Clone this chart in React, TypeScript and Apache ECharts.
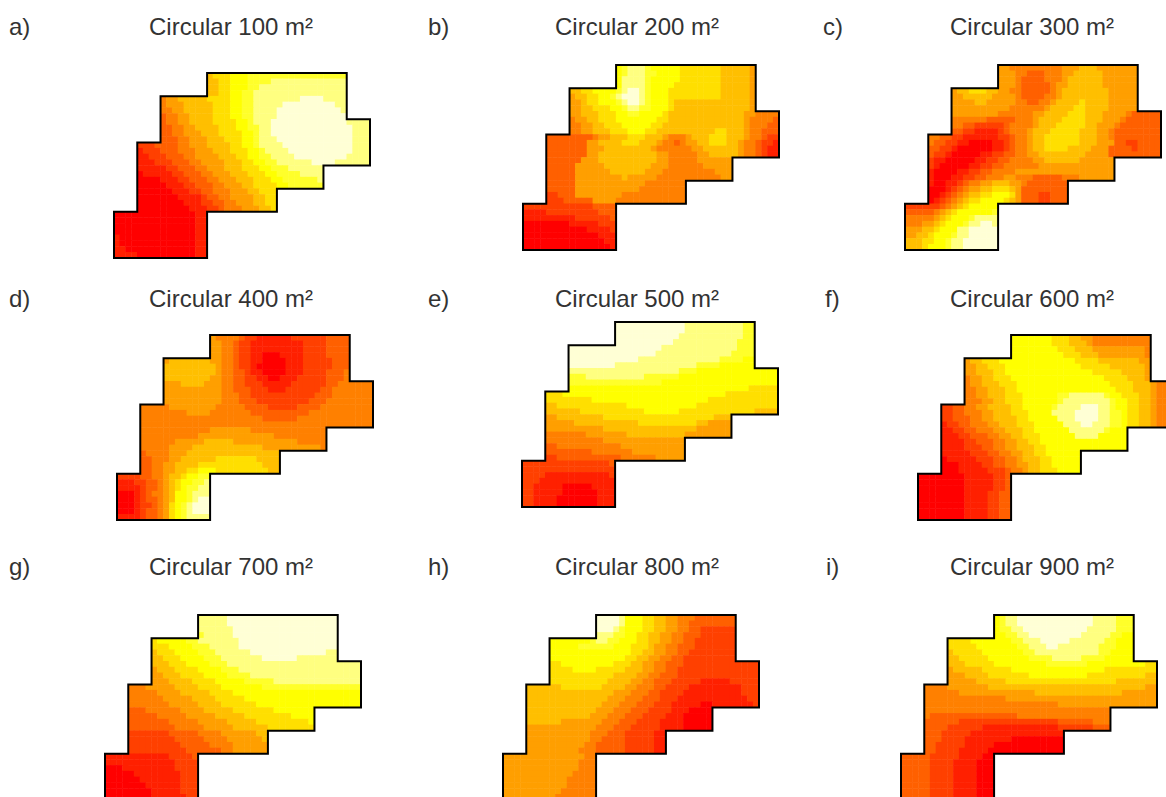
import React, { useEffect, useRef } from "react";
import * as echarts from "echarts";

const LEVEL_COLORS = ["#FF0000","#FF2000","#FF4000","#FF6000","#FF8000","#FF9F00","#FFBF00","#FFDF00","#FFFF00","#FFFF2A","#FFFF80","#FFFFD5"];
const LETTERS = ["a)","b)","c)","d)","e)","f)","g)","h)","i)"];
const TITLES = ["Circular 100 m²","Circular 200 m²","Circular 300 m²","Circular 400 m²","Circular 500 m²","Circular 600 m²","Circular 700 m²","Circular 800 m²","Circular 900 m²"];
const OUTLINE = [[0,8],[0,6],[1,6],[1,3],[2,3],[2,1],[4,1],[4,0],[10,0],[10,2],[11,2],[11,4],[9,4],[9,5],[7,5],[7,6],[4,6],[4,8],[0,8]];
const ROW_SPANS = [[16,39],[8,39],[8,43],[4,43],[4,35],[4,27],[0,15],[0,15]];

// Each row: "startColumn:level" runs (4 columns / rows per outline step).
const PANEL_A = [
"16:6 17:7 20:8 23:9","16:6 18:7 20:8 23:9 27:10","16:6 18:7 20:8 23:9 25:10","16:6 18:7 20:8 22:9 24:10",
"8:4 9:5 11:6 16:7 20:8 22:9 24:10 32:11 36:10","8:4 9:5 12:6 17:7 20:8 22:9 24:10 29:11 38:10","8:4 10:5 12:6 17:7 20:8 22:9 24:10 28:11 39:10","8:3 9:4 11:5 13:6 17:7 20:8 22:9 24:10 28:11",
"8:3 9:4 11:5 13:6 17:7 21:8 23:9 24:10 27:11 40:10","8:3 10:4 12:5 14:6 18:7 21:8 23:9 25:10 27:11 41:10","8:3 10:4 12:5 15:6 18:7 22:8 24:9 25:10 27:11 41:10","8:3 11:4 13:5 16:6 19:7 22:8 24:9 25:10 28:11 41:10",
"4:2 7:3 11:4 13:5 16:6 20:7 22:8 24:9 25:10 29:11 41:10","4:1 5:2 8:3 11:4 14:5 17:6 20:7 23:8 25:9 26:10 30:11 41:10","4:1 6:2 9:3 12:4 14:5 18:6 21:7 23:8 25:9 27:10 31:11 40:10","4:1 7:2 10:3 13:4 15:5 19:6 22:7 24:8 26:9 28:10 34:11 38:10",
"4:1 9:2 11:3 14:4 16:5 19:6 22:7 25:8 27:9 30:10","4:0 5:1 10:2 12:3 15:4 17:5 20:6 23:7 26:8 28:9 32:10","4:0 8:1 11:2 13:3 16:4 18:5 21:6 24:7 27:8 29:9 35:10","4:0 9:1 12:2 14:3 17:4 19:5 22:6 24:7 28:8 30:9",
"4:0 10:1 13:2 15:3 17:4 20:5 23:6 25:7","4:0 11:1 15:2 16:3 18:4 20:5 24:6 26:7","4:0 12:1 15:2 17:3 19:4 21:5 24:6 26:7","4:0 13:1 16:2 18:3 19:4 22:5 25:6 27:7",
"0:0 14:1","0:0 14:1","0:0 14:1","0:0 14:1","0:1 1:0 14:1","0:1 1:0 14:1","0:1 2:0 14:1","0:1 4:0 14:1"];
const PANEL_B = [
"16:8 17:9 18:10 21:9 22:8 27:7 34:6 39:5","16:8 17:9 18:10 21:9 23:8 27:7 34:6 39:5","16:8 17:10 21:9 22:8 27:7 34:6 39:5","16:8 17:10 21:9 22:8 26:7 34:6 39:5",
"8:6 10:7 12:8 16:9 17:10 18:11 20:10 21:9 22:8 25:7 34:6 39:5","8:5 9:6 11:7 13:8 15:9 16:10 17:11 20:10 21:9 22:8 25:7 34:6 39:5","8:5 10:6 11:7 13:8 16:9 17:10 18:11 20:10 21:9 22:8 25:7 26:6 39:5","8:5 10:6 12:7 15:8 17:9 18:10 20:9 22:8 25:7 26:6 39:5",
"8:5 10:6 13:7 16:8 18:9 20:8 24:7 25:6 38:5 40:4","8:4 9:5 11:6 13:7 16:8 23:7 25:6 38:5 39:4 43:3","8:4 10:5 12:6 14:7 17:8 22:7 24:6 38:5 39:4 42:3","8:4 10:5 12:6 15:7 18:8 21:7 23:6 33:7 35:6 38:5 39:4 41:3",
"4:3 12:4 13:5 15:6 18:7 21:6 24:5 25:4 28:5 29:6 32:7 35:6 38:5 39:4 41:3 42:2","4:3 11:5 13:6 17:7 20:6 23:5 24:4 26:3 27:4 28:5 30:6 32:7 35:6 37:5 38:4 40:3 41:2 43:1","4:3 11:5 14:6 22:5 23:4 29:5 31:6 37:5 38:4 40:3 41:2 42:1","4:3 11:5 13:6 23:5 25:4 30:5 32:6 37:5 38:4 40:3 41:2 42:1",
"4:3 10:5 13:6 23:5 25:4 30:5","4:3 9:5 14:6 22:5 25:4 31:5","4:3 9:5 15:6 21:5 24:4 33:5","4:3 9:5 17:6 18:5 23:4 34:5",
"4:3 9:5 21:4","4:3 9:5 20:4","4:2 6:3 9:5 17:4","4:2 7:3 12:5 16:4",
"0:2 12:3","0:1 4:2 13:3","0:1 9:2 15:3","0:0 8:1 13:2","0:0 11:1 15:2","0:0 13:1","0:0 14:1","0:0 15:1"];
const PANEL_C = [
"16:5 18:4 27:5 30:6 33:5","16:5 19:4 21:3 24:4 27:5 29:6 34:5","16:5 19:4 20:3 24:4 27:5 28:6 34:5","16:5 19:4 20:3 25:4 26:5 28:6 34:5",
"8:5 9:6 11:7 14:6 16:5 18:4 20:3 25:4 26:5 27:6 35:5","8:5 10:6 15:5 19:4 20:3 24:4 26:5 27:6 35:5","8:5 12:6 14:5 19:4 21:3 23:4 25:5 26:6 30:7 31:6 35:5","8:5 18:4 24:5 25:6 29:7 31:6 35:5",
"8:5 16:4 22:5 24:6 28:7 31:6 34:5 38:4 39:3","8:4 14:3 19:4 22:5 23:6 27:7 31:6 34:5 37:4 38:3","8:4 10:3 12:2 17:3 18:4 22:5 23:6 26:7 31:6 33:5 36:4 37:3","8:3 10:2 12:1 16:2 17:3 18:4 21:5 22:6 25:7 30:6 33:5 35:4 36:3",
"4:4 6:3 8:2 10:1 16:2 18:3 19:4 21:5 22:6 24:7 30:6 33:5 35:4 36:3","4:4 5:3 7:2 9:1 11:0 15:1 17:2 18:3 19:4 21:5 22:6 24:7 30:6 33:5 36:3 38:2 40:3","4:3 6:2 8:1 9:0 15:1 17:2 18:3 19:4 21:5 22:6 24:7 28:6 32:5 35:3 39:2 40:3","4:3 5:2 7:1 8:0 13:1 15:2 17:3 19:4 21:5 23:6 31:5 35:3",
"4:2 5:1 7:0 12:1 14:2 16:3 18:4 22:5 24:6 30:5","4:2 5:1 6:0 11:1 13:2 15:3 17:4 23:5","4:1 5:0 9:1 11:2 13:3 15:4 19:5","4:1 5:0 8:1 10:2 12:3 14:4 17:5 19:4 22:3 27:4 30:5",
"4:1 5:0 7:1 9:2 10:3 11:4 13:5 15:6 18:5 20:4 21:3","4:0 7:1 8:2 9:3 10:4 11:5 13:6 15:7 18:6 19:5 20:3","4:0 6:1 7:2 8:3 9:4 10:5 11:6 13:7 15:8 18:7 19:5 20:3 23:2 25:3","4:0 5:1 6:2 7:3 8:4 9:5 10:6 11:7 13:8 17:7 18:6 19:5 20:3 23:2 25:3",
"0:2 6:3 7:4 8:5 9:6 10:7 11:8","0:3 5:4 6:5 7:6 8:7 9:8 15:9","0:4 5:5 6:6 7:7 8:8 11:9 12:10","0:4 3:5 5:6 6:7 7:8 10:9 11:10 13:11 15:10","0:5 3:6 5:7 6:8 9:10 11:11","0:5 2:6 4:7 5:8 8:9 9:10 11:11","0:6 3:7 5:8 7:9 8:10 10:11","0:6 3:7 4:8 7:9 8:10 10:11"];
const PANEL_D = [
"16:5 17:4 21:3 22:2 24:1 30:2 36:3","16:5 18:4 20:3 21:2 23:1 32:2 36:3","16:5 18:4 20:3 21:2 23:1 32:2 36:3","16:5 18:4 20:3 21:2 23:1 25:0 28:1 32:2 36:3",
"8:5 9:6 16:5 18:4 20:3 21:2 23:1 25:0 29:1 32:2 37:3","8:6 17:5 18:4 20:3 21:2 23:1 24:0 29:1 32:2 37:3","8:6 17:5 18:4 20:3 22:2 23:1 25:0 29:1 32:2 36:3 39:4","8:6 16:5 18:4 20:3 22:2 24:1 26:0 28:1 31:2 36:3 39:4",
"8:5 11:6 15:5 18:4 20:3 22:2 25:1 30:2 36:3 38:4","8:5 18:4 20:3 23:2 26:1 29:2 35:3 37:4","8:5 18:4 21:3 23:2 34:3 37:4","8:5 18:4 21:3 24:2 33:3 36:4",
"4:4 9:5 17:4 22:3 26:2 31:3 35:4","4:4 12:5 16:4 23:3 33:4","4:4 25:3 31:4","4:4",
"4:4 16:5 23:4","4:4 14:5 27:4","4:4 10:5 15:6 20:5 31:4","4:4 9:5 13:6 25:5 35:4",
"4:3 5:4 9:5 12:6","4:3 6:4 9:5 11:6 17:7 24:6","4:3 6:4 8:5 10:6 14:7 25:6","4:3 6:4 8:5 10:6 12:7 14:8 17:7 26:6",
"0:2 4:3 6:4 8:5 9:6 11:7 12:8 14:9","0:1 3:2 5:3 7:4 8:5 9:6 10:7 11:8 13:9 15:10","0:1 4:2 5:3 7:4 8:5 9:6 10:7 11:8 12:9 14:10","0:0 3:1 4:2 5:3 6:4 8:5 9:6 10:8 12:9 13:10","0:0 3:1 4:2 5:3 7:4 8:5 9:6 10:8 12:9 13:10 14:11","0:0 3:1 4:2 6:3 7:4 8:5 9:7 10:8 11:9 12:10 13:11","0:0 3:1 4:2 5:3 7:4 8:5 9:7 10:8 11:9 12:10 13:11","0:1 4:2 5:3 7:4 8:5 9:7 10:8 11:9 12:10"];
const PANEL_E = [
"16:11 28:10 38:9","16:11 28:10 38:9","16:11 27:10 38:9","16:11 26:10 37:9",
"8:11 24:10 37:9","8:11 23:10 36:9","8:11 20:10 34:9 38:8","8:11 16:10 30:9 34:8",
"8:10 27:9 30:8","8:9 11:10 21:9 27:8","8:9 24:8","8:8 39:7",
"4:7 7:8 35:7","4:7 12:8 32:7","4:6 6:7 18:8 30:7","4:6 10:7 21:8 27:7 40:6",
"4:5 6:6 14:7 33:6","4:5 9:6 20:7 30:6 32:5","4:5 14:6 30:5","4:4 11:5 18:6 28:5",
"4:4 14:5","4:3 6:4 17:5","4:3 12:4 19:5","4:2 6:3 17:4 23:5",
"0:2 15:3","0:2","0:2 4:1 15:2","0:2 3:1","0:2 2:1 7:0 12:1","0:2 2:1 7:0 13:1","0:2 2:1 6:0 13:1","0:2 2:1 6:0 13:1"];
const PANEL_F = [
"16:8 23:7 26:6 28:5 30:4","16:8 23:7 26:6 29:5 30:4","16:8 24:7 27:6 30:5 39:4","16:8 25:7 28:6 31:5 39:4",
"8:5 9:6 11:7 14:8 27:7 31:6 38:5","8:5 10:6 12:7 15:8 28:7 33:6 39:5","8:5 10:6 13:7 15:8 30:7 35:6 39:5","8:4 9:5 11:6 13:7 16:8 32:7 36:6 39:5",
"8:4 9:5 11:6 14:7 17:8 33:7 37:6 40:5 41:4","8:4 10:5 12:6 15:7 17:8 34:7 37:6 40:5 41:4","8:4 10:5 12:6 15:7 18:8 24:9 26:10 32:9 33:8 35:7 38:6 40:5 41:4","8:4 11:5 13:6 15:7 18:8 24:9 25:10 33:9 34:8 36:7 38:6 40:5 41:4",
"4:2 6:3 8:4 10:5 12:6 16:7 18:8 23:9 24:10 28:11 31:10 33:9 34:8 36:7 38:6 40:5 41:4","4:2 6:3 8:4 11:5 13:6 16:7 19:8 23:10 27:11 31:10 33:9 35:8 36:7 38:6 40:5 41:4","4:2 6:3 9:4 11:5 13:6 17:7 19:8 24:10 27:11 31:10 33:9 35:8 36:7 38:6 40:5 41:4","4:1 5:2 7:3 9:4 12:5 14:6 17:7 20:8 25:10 28:11 30:10 33:9 35:8 36:7 38:6 40:5 41:4",
"4:1 6:2 8:3 10:4 13:5 15:6 18:7 20:8 26:10 32:9 33:8","4:1 7:2 9:3 12:4 14:5 16:6 18:7 21:8 27:10 31:8","4:1 8:2 10:3 13:4 15:5 17:6 19:7 21:8","4:1 8:2 11:3 13:4 15:5 17:6 20:7 22:8",
"4:1 9:2 12:3 14:4 16:5 18:6 20:7 22:8","4:0 5:1 10:2 13:3 15:4 17:5 18:6 21:7 23:8","4:0 7:1 11:2 13:3 15:4 17:5 19:6 21:7 23:8","4:0 7:1 12:2 15:3 16:4 18:5 19:6 21:7 24:8",
"0:0 8:1 13:2 15:3","0:0 8:1 13:2 15:3","0:0 8:1 13:2 15:3","0:0 8:1 12:2 14:3","0:0 8:1 12:2 14:3","0:0 8:1 12:2 14:3","0:0 8:1 12:2 14:3","0:0 8:1 12:2 14:3"];
const PANEL_G = [
"16:10 21:11","16:10 21:11","16:10 22:11","16:9 17:10 22:11",
"8:7 9:8 14:9 16:10 23:11","8:7 11:8 15:9 18:10 23:11","8:6 9:7 12:8 16:9 19:10 25:11 38:10","8:6 10:7 13:8 17:9 20:10 27:11 33:10",
"8:6 11:7 14:8 18:9 21:10","8:5 9:6 12:7 16:8 20:9 23:10","8:5 10:6 13:7 17:8 21:9 25:10","8:5 11:6 15:7 19:8 24:9 29:10",
"4:4 7:5 12:6 16:7 20:8 27:9","4:4 9:5 13:6 18:7 22:8","4:4 10:5 15:6 19:7 24:8","4:4 11:5 16:6 20:7 26:8",
"4:3 7:4 13:5 17:6 22:7 29:8","4:3 9:4 14:5 19:6 24:7 32:8","4:3 11:4 16:5 21:6 26:7 35:8","4:3 12:4 17:5 22:6 28:7",
"4:2 11:3 16:4 20:5 26:6","4:2 12:3 17:4 21:5 27:6","4:2 13:3 18:4 22:5","4:2 14:3 20:4 22:5",
"0:1 11:2 15:3","0:1 12:2","0:0 3:1 12:2","0:0 5:1 13:2","0:0 6:1 13:2","0:0 7:1 13:2","0:0 8:1 13:2","0:0 8:1 14:2"];
const PANEL_H = [
"16:11 20:10 21:8 24:7 26:6 28:5 30:4 33:3","16:11 20:10 21:8 24:7 26:6 28:5 30:4 32:3","16:11 19:10 20:9 21:8 24:7 26:6 28:5 30:4 32:3 34:2","16:10 19:9 21:8 23:7 25:6 27:5 29:4 31:3 34:2",
"8:8 15:9 16:10 18:9 20:8 23:7 25:6 27:5 29:4 31:3 33:2","8:8 13:9 19:8 22:7 25:6 26:5 28:4 30:3 33:2","8:8 22:7 24:6 26:5 28:4 30:3 32:2","8:8 21:7 23:6 25:5 27:4 29:3 31:2",
"8:7 10:8 19:7 22:6 24:5 26:4 28:3 31:2","8:7 12:8 16:7 21:6 24:5 26:4 28:3 30:2","8:7 19:6 23:5 25:4 27:3 30:2","8:7 18:6 22:5 24:4 26:3 29:2 34:1 39:2",
"4:6 10:7 17:6 21:5 23:4 26:3 28:2 32:1 41:2","4:6 19:5 22:4 25:3 27:2 31:1 41:2","4:6 18:5 21:4 24:3 27:2 30:1 42:2","4:6 17:5 20:4 23:3 26:2 29:1 34:0 36:1 43:2",
"4:6 16:5 19:4 22:3 25:2 29:1 32:0","4:6 15:5 18:4 21:3 24:2 28:1 31:0","4:6 10:5 17:4 20:3 23:2 27:1 31:0","4:5 16:4 19:3 22:2 27:1 31:0",
"4:5 15:4 18:3 21:2 26:1","4:5 15:4 17:3 21:2 26:1","4:5 14:4 16:3 21:2 26:1","4:5 13:4 16:3 21:2 26:1",
"0:5 14:4","0:5 13:4","0:5 13:4","0:5 12:4","0:5 11:4","0:5 11:4","0:5 10:4","0:5 9:4"];
const PANEL_I = [
"16:8 17:9 18:10 20:11 33:10 37:9","16:8 17:9 18:10 20:11 33:10 37:9","16:8 17:9 19:10 21:11 32:10 37:9","16:8 18:9 20:10 22:11 31:10 36:9 38:8",
"8:7 12:8 19:9 21:10 24:11 29:10 35:9 37:8","8:7 13:8 20:9 22:10 25:11 27:10 34:9 37:8","8:6 9:7 14:8 21:9 23:10 34:9 36:8","8:6 10:7 15:8 22:9 26:10 31:9 35:8",
"8:6 11:7 16:8 25:9 32:8 42:7","8:5 9:6 14:7 19:8 35:7","8:5 11:6 15:7 22:8 32:7 42:6","8:5 13:6 18:7 37:6",
"4:4 8:5 15:6 42:5","4:4 10:5 23:6 38:5","4:4 18:5","4:4 27:5",
"4:4","4:4 5:3 20:4","4:3 10:2 27:3 33:4","4:3 8:2 14:1 27:2 33:3",
"4:3 7:2 12:1","4:3 7:2 11:1 19:0","4:3 6:2 11:1 16:0","4:3 6:2 10:1 15:0",
"0:3 5:2 10:1 14:0","0:3 5:2 9:1 13:0","0:3 5:2 9:1 13:0","0:3 5:2 9:1 13:0","0:3 5:2 9:1 13:0","0:3 5:2 9:1 13:0","0:3 5:2 9:1 13:0","0:3 5:2 9:1 13:0"];
const PANELS = [PANEL_A,PANEL_B,PANEL_C,PANEL_D,PANEL_E,PANEL_F,PANEL_G,PANEL_H,PANEL_I];

// Layout only. The chart is larger than the page so the panels cut off by the picture's edge keep their size.
const W = 1166, H = 797, CHART_W = 1200, CHART_H = 830, CELLS_PER_STEP = 4;
const ORIGINS = [[114,73],[523,65],[905,65],[117,335],[522,322],[918,335],[105,615],[503,615],[901,615]];
const TITLE_POS = [[231,26],[637,26],[1032,26],[231,298],[637,298],[1032,298],[231,566],[637,566],[1032,566]];
const LETTER_POS = [[9,26],[428,26],[823,26],[9,298],[428,298],[825,298],[9,566],[428,566],[826,566]];

function decodeRow(row: string, r: number) {
  const span = ROW_SPANS[Math.floor(r / CELLS_PER_STEP)];
  const runs = row.split(" ").map((s) => s.split(":").map(Number));
  const out: number[][] = [];
  for (let c = span[0]; c <= span[1]; c++) {
    let level = runs[0][1];
    for (const [start, l] of runs) if (start <= c) level = l;
    out.push([c, r, level]);
  }
  return out;
}

const range = (n: number) => Array.from({ length: n }, (_, i) => String(i));

function buildOption() {
  const grid: any[] = [], xAxis: any[] = [], yAxis: any[] = [], series: any[] = [];
  PANELS.forEach((rows, i) => {
    grid.push({ left: ORIGINS[i][0], top: ORIGINS[i][1], width: 256, height: 185, containLabel: false });
    xAxis.push({ type: "category", gridIndex: i, data: range(44), show: false });
    yAxis.push({ type: "category", gridIndex: i, data: range(32), inverse: true, show: false });
    xAxis.push({ type: "value", gridIndex: i, min: 0, max: 11, show: false });
    yAxis.push({ type: "value", gridIndex: i, min: 0, max: 8, inverse: true, show: false });
    series.push({
      type: "heatmap", xAxisIndex: 2 * i, yAxisIndex: 2 * i, silent: true,
      data: rows.flatMap((row, r) => decodeRow(row, r)),
      emphasis: { disabled: true },
    });
  });
  PANELS.forEach((_, i) => {
    series.push({
      type: "line", xAxisIndex: 2 * i + 1, yAxisIndex: 2 * i + 1, silent: true, z: 5,
      data: OUTLINE, symbol: "none", clip: false,
      lineStyle: { color: "#000", width: 2, cap: "square", join: "miter" },
    });
  });
  const textStyle = { fill: "#333", fontFamily: "Liberation Sans", fontSize: 24, textVerticalAlign: "middle" };
  const graphic = [
    ...TITLES.map((t, i) => ({ type: "text", silent: true, style: { ...textStyle, text: t, x: TITLE_POS[i][0], y: TITLE_POS[i][1], textAlign: "center" } })),
    ...LETTERS.map((t, i) => ({ type: "text", silent: true, style: { ...textStyle, text: t, x: LETTER_POS[i][0], y: LETTER_POS[i][1], textAlign: "left" } })),
  ];
  return {
    animation: false,
    backgroundColor: "#fff",
    grid, xAxis, yAxis, series, graphic,
    visualMap: {
      show: false, type: "piecewise", dimension: 2,
      seriesIndex: PANELS.map((_, i) => i),
      pieces: LEVEL_COLORS.map((color, value) => ({ value, color })),
    },
  };
}

export default function App() {
  const ref = useRef<HTMLDivElement>(null);
  useEffect(() => {
    document.body.style.margin = "0";
    const chart = echarts.init(ref.current!, null, { renderer: "svg" });
    chart.setOption(buildOption() as any);
    return () => chart.dispose();
  }, []);
  return (
    <div style={{ width: W, height: H, overflow: "hidden" }}>
      <div ref={ref} style={{ width: CHART_W, height: CHART_H }} />
    </div>
  );
}
